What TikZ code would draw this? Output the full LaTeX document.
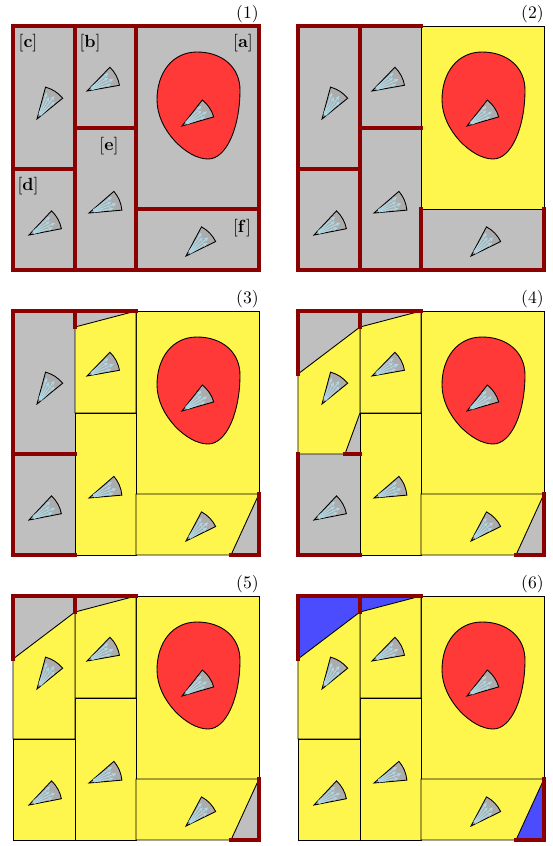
\documentclass[tikz,border=0pt]{standalone}
\usepackage{amsmath}
\usepackage{tikz}
\usetikzlibrary{arrows.meta}
\definecolor{wallred}{RGB}{139,0,0}
\definecolor{raycol}{RGB}{173,216,230}
\tikzset{
  room/.style={fill=gray!50},
  hidden/.style={fill=blue!70},
  seen/.style={fill=yellow!70, draw=black, line width=0.5pt},
  wall/.style={draw=wallred, line width=2.7pt, line cap=rect, line join=miter},
  blob/.style={fill=red!78, draw=black, line width=0.5pt},
  fov/.style={fill=gray!65, draw=black, line width=0.5pt},
  ray/.style={draw=raycol, line width=0.6pt, -{Stealth[length=2.5pt,width=2.2pt]}},
  tag/.style={anchor=base east, inner sep=0pt},
  rlabel/.style={inner sep=0pt},
}
\newcommand{\camfov}[3]{%
  \begin{scope}[shift={(#1,#2)}, x=1cm, y=1cm, rotate=#3]
    \draw[fov] (0,0) -- (-18:0.66) arc[start angle=-18, end angle=18, radius=0.66] -- cycle;
    \foreach \ang/\len in {-12/0.5, -4/0.58, 4/0.5, 12/0.56}
      \draw[ray] (\ang:0.1) -- (\ang:\len);
  \end{scope}}
\newcommand{\roomblob}{%
  \draw[blob] (184,26) .. controls (210,26) and (227,42) .. (227,64)
    .. controls (227,100) and (214,133) .. (195,133)
    .. controls (174,133) and (144,104) .. (144,74)
    .. controls (144,46) and (160,26) .. (184,26) -- cycle;}
\newcommand{\allfovs}{%
  \camfov{24}{93}{57} \camfov{74}{65}{28} \camfov{169}{100}{34}
  \camfov{16}{209}{29} \camfov{76}{187}{23} \camfov{173}{230}{44}}

\begin{document}
\begin{tikzpicture}[x=0.02cm, y=-0.02cm]
  \useasboundingbox (0,0) rectangle (553,846);

  % (1) all unexplored
  \begin{scope}[shift={(13,26)}]
    \fill[room] (0,0) rectangle (246,244);
    \roomblob \allfovs
    \draw[wall] (0,0) rectangle (246,244);
    \draw[wall] (62,0) -- (62,244) (123,0) -- (123,244) (0,143) -- (62,143)
      (62,102) -- (123,102) (123,183) -- (246,183);
    \node[tag] (t1) at (246,-8) {(1)};
    \node[rlabel] (lc) at (15,17) {$[\mathbf{c}]$};
    \node[rlabel] (lb) at (77,17) {$[\mathbf{b}]$};
    \node[rlabel] (la) at (230,17) {$[\mathbf{a}]$};
    \node[rlabel] (ld) at (15,160) {$[\mathbf{d}]$};
    \node[rlabel] (le) at (96,120) {$[\mathbf{e}]$};
    \node[rlabel] (lf) at (229,202) {$[\mathbf{f}]$};
  \end{scope}

  % (2)
  \begin{scope}[shift={(298,26)}]
    \fill[room] (0,0) rectangle (246,244);
    \draw[seen] (123,0) rectangle (246,183);
    \roomblob \allfovs
    \draw[wall] (123,0) -- (0,0) -- (0,244) -- (246,244) -- (246,183);
    \draw[wall] (62,0) -- (62,244) (123,183) -- (123,244) (0,143) -- (62,143)
      (62,102) -- (123,102);
    \node[tag] (t2) at (246,-8) {(2)};
  \end{scope}

  % (3)
  \begin{scope}[shift={(13,311)}]
    \fill[room] (0,0) rectangle (246,244);
    \draw[seen] (123,0) rectangle (246,183);
    \draw[seen] (62,16) -- (123,0) -- (123,102) -- (62,102) -- cycle;
    \draw[seen] (62,102) rectangle (123,244);
    \draw[seen] (123,183) -- (246,183) -- (218,244) -- (123,244) -- cycle;
    \roomblob \allfovs
    \draw[wall] (123,0) -- (0,0) -- (0,244) -- (62,244);
    \draw[wall] (0,143) -- (62,143) (62,0) -- (62,16);
    \draw[wall] (246,183) -- (246,244) -- (218,244);
    \node[tag] (t3) at (246,-8) {(3)};
  \end{scope}

  % (4)
  \begin{scope}[shift={(298,311)}]
    \fill[room] (0,0) rectangle (246,244);
    \draw[seen] (123,0) rectangle (246,183);
    \draw[seen] (62,16) -- (123,0) -- (123,102) -- (62,102) -- cycle;
    \draw[seen] (62,102) rectangle (123,244);
    \draw[seen] (123,183) -- (246,183) -- (218,244) -- (123,244) -- cycle;
    \draw[seen] (0,63) -- (62,16) -- (62,102) -- (47,143) -- (0,143) -- cycle;
    \roomblob \allfovs
    \draw[wall] (0,63) -- (0,0) -- (123,0) (62,0) -- (62,16);
    \draw[wall] (47,143) -- (62,143) (0,143) -- (0,244) -- (62,244);
    \draw[wall] (246,183) -- (246,244) -- (218,244);
    \node[tag] (t4) at (246,-8) {(4)};
  \end{scope}

  % (5)
  \begin{scope}[shift={(13,596)}]
    \fill[room] (0,0) rectangle (246,244);
    \draw[seen] (123,0) rectangle (246,183);
    \draw[seen] (62,16) -- (123,0) -- (123,102) -- (62,102) -- cycle;
    \draw[seen] (62,102) rectangle (123,244);
    \draw[seen] (123,183) -- (246,183) -- (218,244) -- (123,244) -- cycle;
    \draw[seen] (0,63) -- (62,16) -- (62,143) -- (0,143) -- cycle;
    \draw[seen] (0,143) rectangle (62,244);
    \roomblob \allfovs
    \draw[wall] (0,63) -- (0,0) -- (123,0) (62,0) -- (62,16);
    \draw[wall] (246,183) -- (246,244) -- (218,244);
    \node[tag] (t5) at (246,-8) {(5)};
  \end{scope}

  % (6) leftovers marked
  \begin{scope}[shift={(298,596)}]
    \fill[hidden] (0,0) rectangle (246,244);
    \draw[seen] (123,0) rectangle (246,183);
    \draw[seen] (62,16) -- (123,0) -- (123,102) -- (62,102) -- cycle;
    \draw[seen] (62,102) rectangle (123,244);
    \draw[seen] (123,183) -- (246,183) -- (218,244) -- (123,244) -- cycle;
    \draw[seen] (0,63) -- (62,16) -- (62,143) -- (0,143) -- cycle;
    \draw[seen] (0,143) rectangle (62,244);
    \roomblob \allfovs
    \draw[wall] (0,63) -- (0,0) -- (123,0) (62,0) -- (62,16);
    \draw[wall] (246,183) -- (246,244) -- (218,244);
    \node[tag] (t6) at (246,-8) {(6)};
  \end{scope}
\end{tikzpicture}
\end{document}
